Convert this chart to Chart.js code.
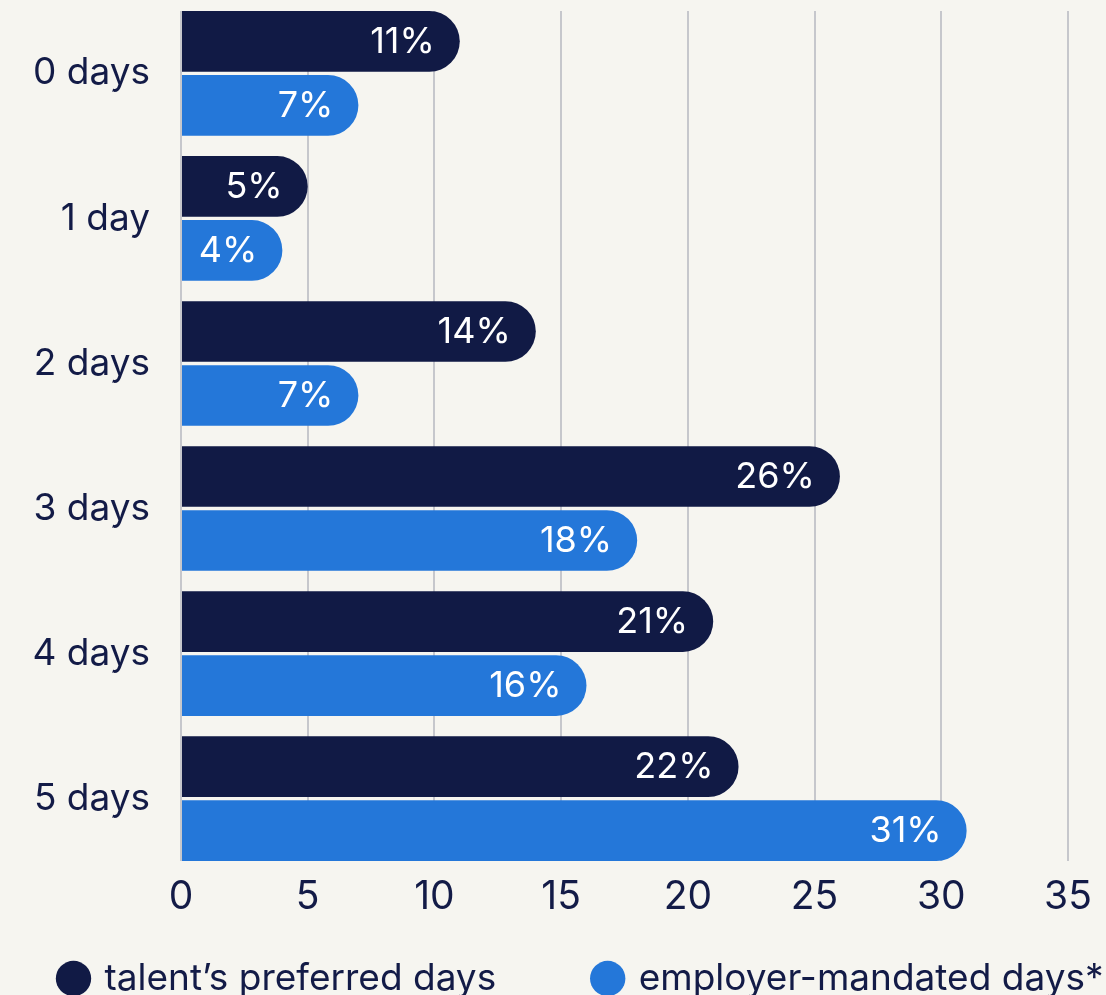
<!DOCTYPE html>
<html><head><meta charset="utf-8">
<script src="https://cdn.jsdelivr.net/npm/chart.js@4.4.1/dist/chart.umd.min.js"></script>
<style>
html,body{margin:0;padding:0;background:#f6f5f0;overflow:hidden;}
#wrap{width:1106px;height:995px;}
canvas{display:block;}
</style></head><body>
<div id="wrap"><canvas id="c" width="1106" height="995"></canvas></div>
<script>
// ---- data ----
const categories = ['0 days', '1 day', '2 days', '3 days', '4 days', '5 days'];
const talentPreferred = [11, 5, 14, 26, 21, 22];
const employerMandated = [7, 4, 7, 18, 16, 31];
const seriesNames = ['talent\u2019s preferred days', 'employer-mandated days*'];
const xTickStep = 5;
const xMax = 35;

// ---- style ----
const NAVY = '#111a45';
const BLUE = '#2477d9';
const TEXT = '#131b47';
const GRID = '#c6c7cc';
const FONT = 'Inter';
const LABEL_FS = 36;
const Y_FS = 37;
const X_FS = 39;
const LEG_FS = 37;

// layout helpers
const LEG_PAD = 99;
const LEFT_EXT = LEG_PAD - 61;
const RIGHT_EXT = 150;
const Y_AXIS_W = 181;
const RIGHT_GAP = 38;
const BOTTOM_PAD = -(LEG_FS + LEG_PAD + 10 - 134);

const barLabels = {
  id: 'barLabels',
  afterDatasetsDraw(chart) {
    const ctx = chart.ctx;
    ctx.save();
    ctx.font = '400 ' + LABEL_FS + 'px ' + FONT;
    ctx.fillStyle = '#ffffff';
    ctx.textAlign = 'right';
    ctx.textBaseline = 'middle';
    chart.data.datasets.forEach((ds, di) => {
      const meta = chart.getDatasetMeta(di);
      meta.data.forEach((el, i) => {
        ctx.fillText(ds.data[i].x + '%', el.x - 25, el.y + 1);
      });
    });
    ctx.restore();
  }
};

Chart.defaults.font.family = FONT;
Chart.defaults.font.size = Y_FS;
Chart.defaults.color = TEXT;

function makeDataset(label, values, color) {
  return {
    label: label,
    data: values.map((v, i) => ({ x: v, y: i })),
    backgroundColor: color,
    borderWidth: 0,
    borderRadius: 100,
    borderSkipped: 'start',
    categoryPercentage: 0.8824,
    barPercentage: 0.948,
    xAxisID: 'x',
    yAxisID: 'y'
  };
}

new Chart(document.getElementById('c'), {
  type: 'bar',
  data: {
    datasets: [
      makeDataset(seriesNames[0], talentPreferred, NAVY),
      makeDataset(seriesNames[1], employerMandated, BLUE)
    ]
  },
  options: {
    indexAxis: 'y',
    responsive: false,
    animation: false,
    devicePixelRatio: 1,
    layout: { padding: { top: 11, left: -LEFT_EXT, right: -RIGHT_EXT, bottom: BOTTOM_PAD } },
    scales: {
      x: {
        type: 'linear',
        position: 'bottom',
        min: 0,
        max: xMax,
        ticks: { stepSize: xTickStep, mirror: true, padding: -60, color: TEXT, font: { size: X_FS } },
        grid: { color: GRID, lineWidth: 2, drawTicks: false },
        border: { display: false },
        afterFit(s) { s.height = 0; s.paddingLeft = 0; s.paddingRight = 0; }
      },
      y: {
        type: 'linear',
        position: 'left',
        reverse: true,
        offset: false,
        min: -0.43,
        max: 5.43,
        bounds: 'data',
        afterBuildTicks(s) { s.ticks = categories.map((c, i) => ({ value: i })); },
        ticks: {
          autoSkip: false,
          padding: 31,
          color: TEXT,
          font: { size: Y_FS },
          callback: (v) => (categories[v] !== undefined ? categories[v] : '')
        },
        grid: { display: false, drawTicks: false, offset: false },
        border: { display: false },
        afterFit(s) { s.width = Y_AXIS_W + LEFT_EXT; s.paddingTop = 0; s.paddingBottom = 0; }
      },
      yPad: {
        type: 'linear',
        position: 'right',
        display: true,
        ticks: { display: false },
        grid: { display: false, drawTicks: false },
        border: { display: false },
        afterFit(s) { s.width = RIGHT_EXT + RIGHT_GAP; s.paddingTop = 0; s.paddingBottom = 0; }
      }
    },
    plugins: {
      legend: {
        position: 'bottom',
        align: 'start',
        labels: {
          usePointStyle: true,
          pointStyle: 'circle',
          boxWidth: 25,
          boxHeight: 25,
          padding: LEG_PAD,
          color: TEXT,
          font: { size: LEG_FS }
        }
      },
      tooltip: { enabled: false }
    }
  },
  plugins: [barLabels]
});
</script>
</body></html>
